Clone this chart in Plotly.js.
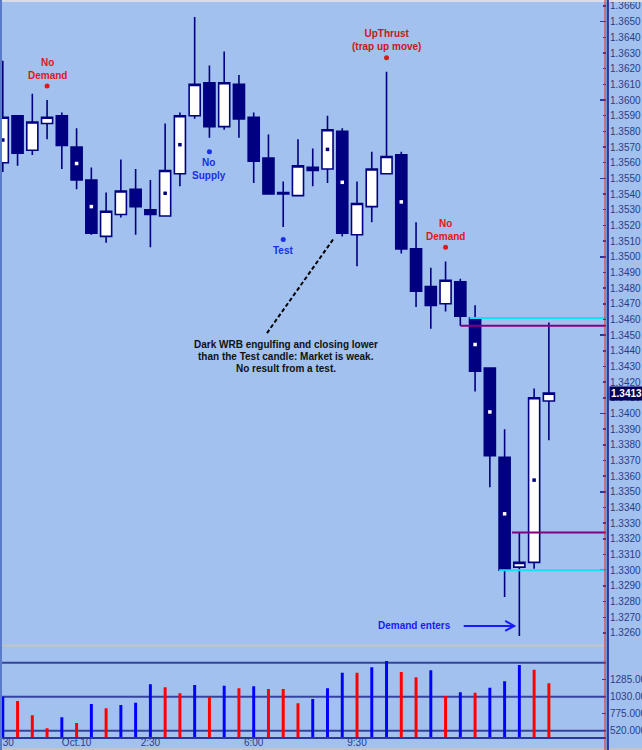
<!DOCTYPE html>
<html><head><meta charset="utf-8">
<script src="https://cdn.plot.ly/plotly-3.0.1.min.js"></script>
<style>html,body{margin:0;padding:0;background:#a2c1ee;}#chart{width:642px;height:750px;}</style>
</head><body><div id="chart"></div>
<script>
// ---- data ----
const timeLabels   = ['30', 'Oct.10', '2:30', '6:00', '9:30'];
const timeLabelIdx = [0, 5, 10, 17, 24];

const open  = [1.3560,1.3590,1.3568,1.3585,1.3590,1.3570,1.3549,1.3513,1.3527,1.3543,1.3530,1.3526,1.3553,1.3590,1.3611,1.3583,1.3610,1.3589,1.3563,1.3540,1.3539,1.3557,1.3556,1.3580,1.3514,1.3532,1.3553,1.3565,1.3505,1.3481,1.3470,1.3484,1.3461,1.3429,1.3372,1.3302,1.3305,1.3408];
const high  = [1.3625,1.3590,1.3604,1.3600,1.3592,1.3582,1.3557,1.3541,1.3562,1.3556,1.3549,1.3585,1.3592,1.3653,1.3622,1.3631,1.3616,1.3592,1.3578,1.3548,1.3575,1.3569,1.3590,1.3582,1.3548,1.3567,1.3618,1.3567,1.3522,1.3493,1.3497,1.3486,1.3469,1.3429,1.3390,1.3324,1.3416,1.3458];
const low   = [1.3554,1.3558,1.3565,1.3575,1.3556,1.3543,1.3514,1.3509,1.3525,1.3514,1.3506,1.3526,1.3545,1.3588,1.3576,1.3581,1.3576,1.3547,1.3540,1.3519,1.3539,1.3545,1.3547,1.3513,1.3494,1.3522,1.35525,1.3502,1.3468,1.3454,1.3465,1.3456,1.3414,1.3353,1.3283,1.3258,1.3301,1.3383];
const close = [1.3589,1.3566,1.3586,1.3589,1.3571,1.3549,1.3515,1.3529,1.3542,1.3532,1.3527,1.3555,1.3590,1.3610,1.3583,1.3611,1.3588,1.3561,1.3540,1.3541,1.3558,1.3555,1.3581,1.3515,1.3534,1.3556,1.3564,1.3505,1.3478,1.3469,1.3485,1.3462,1.3427,1.3373,1.3300,1.3305,1.3410,1.3413];

const volume    = [1030,965,751,556,721,636,921,856,906,940,1216,1171,1081,1206,1030,1195,1156,1186,1146,1146,931,996,1156,1390,1390,1471,1566,1401,1321,1426,1041,1096,1090,1165,1261,1506,1435,1231];
const volumeDir = ['u','d','d','d','u','d','u','d','u','u','u','d','d','u','d','u','d','u','d','d','d','u','u','u','d','u','u','d','d','u','d','u','d','u','u','u','d','d'];
const volumeTicks = [520, 775, 1030, 1285];
const volumeBands = [520, 1030, 1540];

const midDotIdx = [0,5,6,11,12,22,23,27,32,33,34,36];

const signalIdx   = [3, 14, 19, 26, 30];
const signalPrice = [1.3609, 1.3567, 1.3511, 1.3627, 1.3506];
const signalText  = ['No<br>Demand', 'No<br>Supply', 'Test', 'UpThrust<br>(trap up move)', 'No<br>Demand'];
const signalKind  = ['weak', 'strong', 'strong', 'weak', 'weak'];

const levelIdx   = [32, 31, 35, 34];
const levelPrice = [1.3461, 1.3456, 1.3324, 1.3300];
const levelKind  = ['cyan', 'purple', 'purple', 'cyan'];

const noteLines = ['Dark WRB engulfing and closing lower', 'than the Test candle: Market is weak.', 'No result from a test.'];
const demandText = 'Demand enters';

// ---- styling ----
const BG = '#a2c1ee';
const NAVY = '#000080';
const AXC = '#2d3a8c';
const axFont = {family: 'Liberation Sans, Arial', size: 10, color: AXC};
const lblFont = (c) => ({family: 'Liberation Sans, Arial', size: 10, color: c});
const RED = '#e01818', BLUE = '#1a2ee8';
const levelColor = {cyan: '#10e4f4', purple: '#800080'};

const xs = open.map((_, i) => i);
const XMAX = 40.87;

const traces = [];
traces.push({
  type: 'candlestick', x: xs, open, high, low, close, xaxis: 'x', yaxis: 'y',
  increasing: {line: {color: NAVY, width: 1.6}, fillcolor: '#ffffff'},
  decreasing: {line: {color: NAVY, width: 1.6}, fillcolor: NAVY},
  whiskerwidth: 0, showlegend: false
});
traces.push({
  type: 'scatter', mode: 'markers', xaxis: 'x', yaxis: 'y',
  x: midDotIdx, y: midDotIdx.map(i => (open[i] + close[i]) / 2),
  marker: {symbol: 'square', size: 3.5, color: midDotIdx.map(i => close[i] >= open[i] ? NAVY : '#ffffff'), line: {width: 0}},
  showlegend: false
});
traces.push({
  type: 'scatter', mode: 'markers', xaxis: 'x', yaxis: 'y',
  x: signalIdx, y: signalPrice,
  marker: {size: 5, color: signalKind.map(k => k === 'weak' ? RED : BLUE)},
  showlegend: false
});
traces.push({
  type: 'bar', x: xs, y: volume, xaxis: 'x', yaxis: 'y2', width: 0.2,
  marker: {color: volumeDir.map(d => d === 'u' ? '#0000ff' : '#ff0000'), line: {width: 0}},
  showlegend: false
});
// helper trace so the long-tick overlay axis is drawn
traces.push({type: 'scatter', mode: 'lines', x: xs, y: close, xaxis: 'x', yaxis: 'y3', line: {width: 0}, opacity: 0, showlegend: false});

const shapes = [];
levelIdx.forEach((ix, k) => {
  const off = levelKind[k] === 'purple' ? (ix === 35 ? -0.5 : 0) : -0.37;
  shapes.push({type: 'line', xref: 'x', yref: 'y', x0: ix + off, x1: XMAX, y0: levelPrice[k], y1: levelPrice[k],
    line: {color: levelColor[levelKind[k]], width: 2}, layer: 'above'});
});
volumeBands.forEach(v => shapes.push({type: 'line', xref: 'paper', yref: 'y2', x0: 0, x1: 1, y0: v, y1: v,
  line: {color: '#34449c', width: 2}, layer: 'below'}));
shapes.push({type: 'line', xref: 'x', yref: 'y', x0: 17.9, y0: 1.34513, x1: 22.44, y1: 1.35119,
  line: {color: '#000000', width: 2, dash: '4px,2.5px'}});
shapes.push({type: 'line', xref: 'paper', yref: 'paper', x0: 0, x1: 1, y0: 1 - 645.5/750, y1: 1 - 645.5/750, line: {color: '#c4c4c4', width: 2}});
shapes.push({type: 'line', xref: 'paper', yref: 'paper', x0: -0.01, x1: 1.1, y0: 1 - 749/750, y1: 1 - 749/750, line: {color: '#c4c4c4', width: 2}});
shapes.push({type: 'line', xref: 'paper', yref: 'paper', x0: -0.01, x1: 1.1, y0: 1 - 1/750, y1: 1 - 1/750, line: {color: '#d8dde8', width: 2}});
shapes.push({type: 'line', xref: 'paper', yref: 'paper', x0: -1/604, x1: -1/604, y0: 0, y1: 1, line: {color: '#5a7cc8', width: 2}});
shapes.push({type: 'line', xref: 'paper', yref: 'paper', x0: 603/604, x1: 603/604, y0: 0, y1: 1, line: {color: '#e02020', width: 1}});
shapes.push({type: 'line', xref: 'paper', yref: 'paper', x0: 605.8/604, x1: 605.8/604, y0: 0, y1: 1, line: {color: '#2a3aa0', width: 2.3}});
const tipX = 35 - 0.35, tipY = 1.32645;
shapes.push({type: 'path', xref: 'x', yref: 'y', xsizemode: 'pixel', ysizemode: 'pixel', xanchor: tipX, yanchor: tipY,
  path: 'M -9 -5 L 0 0 L -9 5', line: {color: '#1a1aff', width: 2}});

const annotations = [];
signalIdx.forEach((ix, k) => {
  const nLines = signalText[k].split('<br>').length;
  const dir = signalKind[k] === 'weak' ? 1 : -1;
  annotations.push({xref: 'x', yref: 'y', x: ix, y: signalPrice[k], text: '<b>' + signalText[k].replace('<br>', '</b><br><b>') + '</b>',
    showarrow: false, xanchor: 'center', yanchor: 'middle', yshift: dir * (5 + nLines * 6.2),
    font: lblFont(signalKind[k] === 'weak' ? (ix === 26 ? '#c81818' : RED) : BLUE)});
});
noteLines.forEach((t, k) => annotations.push({xref: 'x', yref: 'y', x: 17.9, y: 1.34513, text: '<b>' + t + '</b>',
  showarrow: false, xanchor: 'center', yanchor: 'middle', xshift: 19, yshift: -(11 + 12 * k), font: lblFont('#111111')}));
annotations.push({xref: 'x', yref: 'y', x: tipX, y: tipY, ax: -52, ay: 0, axref: 'pixel', ayref: 'pixel', text: '',
  showarrow: true, arrowhead: 0, arrowwidth: 2, arrowcolor: '#1a1aff', standoff: 0, startstandoff: 0});
annotations.push({xref: 'x', yref: 'y', x: tipX, y: tipY, text: '<b>' + demandText + '</b>', showarrow: false,
  xanchor: 'right', yanchor: 'middle', xshift: -61, font: lblFont('#1a1aff')});
const last = close[close.length - 1];
annotations.push({xref: 'paper', yref: 'y', x: 1, y: last, text: '<b>' + last.toFixed(4) + '</b>', showarrow: false,
  xanchor: 'left', yanchor: 'middle', xshift: 3, yshift: -0.5, bgcolor: '#00005a', borderpad: 1,
  font: {family: 'Liberation Sans, Arial', size: 10, color: '#ffffff'}});

const yRange = [1.32523, 1.36619];
const layout = {
  width: 642, height: 750, margin: {l: 2, r: 36, t: 0, b: 0, pad: 0},
  paper_bgcolor: BG, plot_bgcolor: BG, showlegend: false, hovermode: false,
  boxgap: 0.25, boxgroupgap: 0,
  xaxis: {range: [-0.054, XMAX], anchor: 'y2', showgrid: false, zeroline: false, showline: true,
    linecolor: '#2a3a9a', linewidth: 2, ticks: '', tickvals: timeLabelIdx,
    ticktext: timeLabels.map((t, i) => i === 0 ? '\u00a0\u00a0\u00a0\u00a0' + t : t),
    tickfont: axFont, ticklabelstandoff: -5, ticklabeloverflow: 'allow', rangeslider: {visible: false}, fixedrange: true},
  yaxis: {domain: [1 - 645/750, 1 - 3/750], range: yRange, side: 'right', anchor: 'x',
    tick0: 1.326, dtick: 0.001, tickformat: '.4f', ticks: 'inside', ticklen: 3, tickwidth: 1.5, tickcolor: '#2a3a9a',
    showgrid: false, zeroline: false, showline: false, tickfont: axFont, ticklabelstandoff: 3, ticklabeloverflow: 'allow', fixedrange: true},
  yaxis3: {overlaying: 'y', side: 'right', anchor: 'x', range: yRange, tick0: 1.325, dtick: 0.005,
    ticks: 'inside', ticklen: 6, tickwidth: 1.5, tickcolor: '#2a3a9a', showticklabels: false,
    showgrid: false, zeroline: false, showline: false, fixedrange: true},
  yaxis2: {domain: [1 - 737.3/750, 1 - 647/750], range: [421, 1775], side: 'right', anchor: 'x',
    tickvals: volumeTicks, ticktext: volumeTicks.map(v => v.toFixed(3)), ticks: 'inside', ticklen: 4, tickwidth: 1.5,
    tickcolor: '#2a3a9a', showgrid: false, zeroline: false, showline: false, tickfont: axFont, ticklabelstandoff: 3, ticklabeloverflow: 'allow', fixedrange: true},
  shapes, annotations
};
Plotly.newPlot('chart', traces, layout, {staticPlot: true, displayModeBar: false});
</script></body></html>
